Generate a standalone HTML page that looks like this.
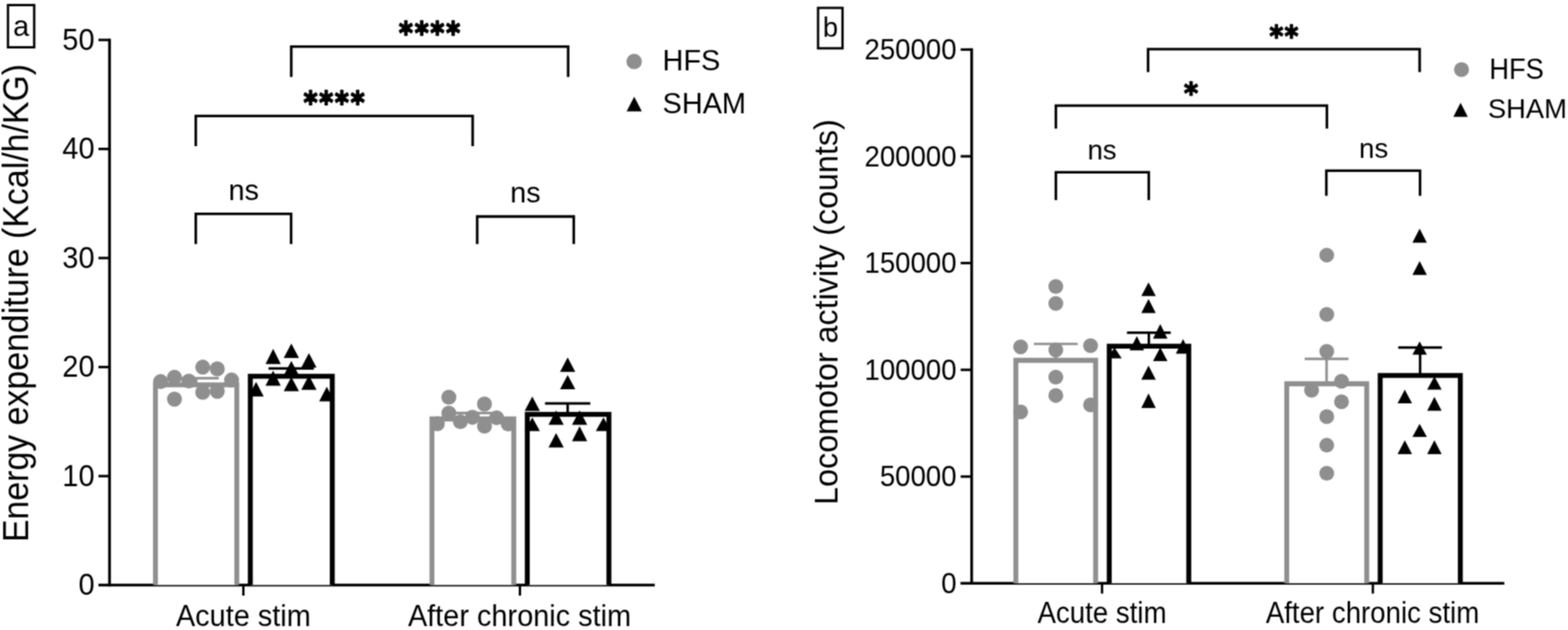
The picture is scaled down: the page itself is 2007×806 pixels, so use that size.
<!DOCTYPE html>
<html><head><meta charset="utf-8"><style>
html,body{margin:0;padding:0;background:#fff;}
svg{display:block;font-family:'Liberation Sans', Arial, Helvetica, sans-serif;}
</style></head><body>
<svg width="2007" height="806" viewBox="0 0 2007 806">
<defs><filter id="soft" filterUnits="userSpaceOnUse" x="-20" y="-20" width="2047" height="846" color-interpolation-filters="sRGB"><feConvolveMatrix order="3" kernelMatrix="1 2 1 2 4 2 1 2 1" divisor="16" edgeMode="duplicate" preserveAlpha="true"/></filter></defs>
<rect width="2007" height="806" fill="#fff"/>
<g filter="url(#soft)">
<rect x="-20" y="-20" width="2047" height="846" fill="#fff"/>
<line x1="140.20" y1="49.50" x2="140.20" y2="750.35" stroke="#000" stroke-width="3.5" stroke-linecap="butt"/>
<line x1="126.00" y1="748.60" x2="838.10" y2="748.60" stroke="#000" stroke-width="3.5" stroke-linecap="butt"/>
<line x1="126.00" y1="609.10" x2="140.20" y2="609.10" stroke="#000" stroke-width="3.2" stroke-linecap="butt"/>
<line x1="126.00" y1="469.60" x2="140.20" y2="469.60" stroke="#000" stroke-width="3.2" stroke-linecap="butt"/>
<line x1="126.00" y1="330.10" x2="140.20" y2="330.10" stroke="#000" stroke-width="3.2" stroke-linecap="butt"/>
<line x1="126.00" y1="190.60" x2="140.20" y2="190.60" stroke="#000" stroke-width="3.2" stroke-linecap="butt"/>
<line x1="126.00" y1="51.10" x2="140.20" y2="51.10" stroke="#000" stroke-width="3.2" stroke-linecap="butt"/>
<text transform="translate(121.00 761.40) scale(1 1.04)" font-size="37" text-anchor="end" font-weight="normal" >0</text>
<text transform="translate(121.00 621.90) scale(1 1.04)" font-size="37" text-anchor="end" font-weight="normal" >10</text>
<text transform="translate(121.00 482.40) scale(1 1.04)" font-size="37" text-anchor="end" font-weight="normal" >20</text>
<text transform="translate(121.00 342.90) scale(1 1.04)" font-size="37" text-anchor="end" font-weight="normal" >30</text>
<text transform="translate(121.00 203.40) scale(1 1.04)" font-size="37" text-anchor="end" font-weight="normal" >40</text>
<text transform="translate(121.00 63.90) scale(1 1.04)" font-size="37" text-anchor="end" font-weight="normal" >50</text>
<line x1="311.50" y1="748.60" x2="311.50" y2="762.00" stroke="#000" stroke-width="3" stroke-linecap="butt"/>
<line x1="665.50" y1="748.60" x2="665.50" y2="762.00" stroke="#000" stroke-width="3" stroke-linecap="butt"/>
<text transform="translate(311.50 800.90) scale(1 1.035)" font-size="37" text-anchor="middle" font-weight="normal" >Acute stim</text>
<text transform="translate(665.00 800.90) scale(1 1.035)" font-size="37" text-anchor="middle" font-weight="normal" >After chronic stim</text>
<text transform="translate(36.3 693.6) rotate(-90) scale(1 1.06)" font-size="43.36">Energy expenditure (Kcal/h/KG)</text>
<rect x="10.2" y="6.5" width="33.599999999999994" height="54.0" fill="none" stroke="#000" stroke-width="3"/>
<text x="27.10" y="45.60" font-size="37" text-anchor="middle" font-weight="normal" >a</text>
<path d="M199.00 748.60V492.40H303.10V748.60" fill="#fff" stroke="#8f8f8f" stroke-width="6.3" stroke-linejoin="miter"/>
<path d="M320.40 748.60V481.40H425.30V748.60" fill="#fff" stroke="#000" stroke-width="6.3" stroke-linejoin="miter"/>
<path d="M552.90 748.60V536.00H657.60V748.60" fill="#fff" stroke="#8f8f8f" stroke-width="6.3" stroke-linejoin="miter"/>
<path d="M674.90 748.60V530.10H779.40V748.60" fill="#fff" stroke="#000" stroke-width="6.3" stroke-linejoin="miter"/>
<line x1="251.00" y1="492.40" x2="251.00" y2="483.90" stroke="#8f8f8f" stroke-width="3.3" stroke-linecap="butt"/>
<line x1="222.00" y1="483.90" x2="280.00" y2="483.90" stroke="#8f8f8f" stroke-width="3.3" stroke-linecap="butt"/>
<line x1="372.70" y1="481.40" x2="372.70" y2="471.30" stroke="#000" stroke-width="3.3" stroke-linecap="butt"/>
<line x1="343.70" y1="471.30" x2="401.70" y2="471.30" stroke="#000" stroke-width="3.3" stroke-linecap="butt"/>
<line x1="605.20" y1="536.00" x2="605.20" y2="528.40" stroke="#8f8f8f" stroke-width="3.3" stroke-linecap="butt"/>
<line x1="576.20" y1="528.40" x2="634.20" y2="528.40" stroke="#8f8f8f" stroke-width="3.3" stroke-linecap="butt"/>
<line x1="726.60" y1="530.10" x2="726.60" y2="516.10" stroke="#000" stroke-width="3.3" stroke-linecap="butt"/>
<line x1="697.60" y1="516.10" x2="755.60" y2="516.10" stroke="#000" stroke-width="3.3" stroke-linecap="butt"/>
<circle cx="205.60" cy="488.20" r="9.6" fill="#8f8f8f"/>
<circle cx="223.30" cy="482.70" r="9.6" fill="#8f8f8f"/>
<circle cx="241.70" cy="487.50" r="9.6" fill="#8f8f8f"/>
<circle cx="259.50" cy="469.70" r="9.6" fill="#8f8f8f"/>
<circle cx="278.10" cy="471.90" r="9.6" fill="#8f8f8f"/>
<circle cx="259.50" cy="501.90" r="9.6" fill="#8f8f8f"/>
<circle cx="278.10" cy="500.60" r="9.6" fill="#8f8f8f"/>
<circle cx="296.40" cy="486.20" r="9.6" fill="#8f8f8f"/>
<circle cx="223.30" cy="510.60" r="9.6" fill="#8f8f8f"/>
<path d="M349.60 446.20L359.35 465.70L339.85 465.70Z" fill="#000"/>
<path d="M372.90 439.50L382.65 457.90L363.15 457.90Z" fill="#000"/>
<path d="M395.40 451.80L405.15 470.20L385.65 470.20Z" fill="#000"/>
<path d="M372.90 461.80L382.65 480.30L363.15 480.30Z" fill="#000"/>
<path d="M349.60 474.20L359.35 493.60L339.85 493.60Z" fill="#000"/>
<path d="M372.90 482.20L382.65 500.60L363.15 500.60Z" fill="#000"/>
<path d="M395.40 480.30L405.15 498.70L385.65 498.70Z" fill="#000"/>
<path d="M327.80 488.60L337.55 507.20L318.05 507.20Z" fill="#000"/>
<path d="M418.30 494.70L428.05 513.50L408.55 513.50Z" fill="#000"/>
<circle cx="574.50" cy="508.20" r="9.6" fill="#8f8f8f"/>
<circle cx="574.50" cy="528.60" r="9.6" fill="#8f8f8f"/>
<circle cx="589.30" cy="539.50" r="9.6" fill="#8f8f8f"/>
<circle cx="604.70" cy="533.80" r="9.6" fill="#8f8f8f"/>
<circle cx="620.10" cy="516.90" r="9.6" fill="#8f8f8f"/>
<circle cx="620.10" cy="545.10" r="9.6" fill="#8f8f8f"/>
<circle cx="635.70" cy="534.50" r="9.6" fill="#8f8f8f"/>
<circle cx="650.50" cy="542.50" r="9.6" fill="#8f8f8f"/>
<circle cx="559.80" cy="542.10" r="9.6" fill="#8f8f8f"/>
<path d="M726.60 457.30L736.35 475.80L716.85 475.80Z" fill="#000"/>
<path d="M726.60 479.80L736.35 498.10L716.85 498.10Z" fill="#000"/>
<path d="M681.30 507.30L691.05 525.80L671.55 525.80Z" fill="#000"/>
<path d="M711.80 525.00L721.55 543.50L702.05 543.50Z" fill="#000"/>
<path d="M741.90 525.00L751.65 543.50L732.15 543.50Z" fill="#000"/>
<path d="M681.30 533.90L691.05 551.60L671.55 551.60Z" fill="#000"/>
<path d="M772.40 533.90L782.15 551.60L762.65 551.60Z" fill="#000"/>
<path d="M741.90 545.20L751.65 564.50L732.15 564.50Z" fill="#000"/>
<path d="M711.80 554.00L721.55 572.60L702.05 572.60Z" fill="#000"/>
<path d="M372.80 98.40V59.60H727.20V98.40" fill="none" stroke="#000" stroke-width="3.3" stroke-linejoin="miter"/>
<path d="M250.60 187.00V148.30H605.00V187.00" fill="none" stroke="#000" stroke-width="3.3" stroke-linejoin="miter"/>
<path d="M250.60 312.20V273.60H372.60V312.20" fill="none" stroke="#000" stroke-width="3.3" stroke-linejoin="miter"/>
<path d="M610.80 312.30V277.00H734.40V312.30" fill="none" stroke="#000" stroke-width="3.3" stroke-linejoin="miter"/>
<text transform="translate(550.80 55.80) scale(0.9 1)" font-family="'DejaVu Sans', sans-serif" font-weight="bold" font-size="38.3" letter-spacing="2.3" text-anchor="middle" stroke="#000" stroke-width="1.8" stroke-linejoin="round">****</text>
<text transform="translate(428.60 145.10) scale(0.9 1)" font-family="'DejaVu Sans', sans-serif" font-weight="bold" font-size="38.3" letter-spacing="2.3" text-anchor="middle" stroke="#000" stroke-width="1.8" stroke-linejoin="round">****</text>
<text x="312.00" y="255.50" font-size="37" text-anchor="middle" font-weight="normal" >ns</text>
<text x="672.50" y="259.20" font-size="37" text-anchor="middle" font-weight="normal" >ns</text>
<circle cx="811.70" cy="78.70" r="9.9" fill="#8f8f8f"/>
<path d="M811.80 123.70L821.55 142.60L802.05 142.60Z" fill="#000"/>
<text x="848.00" y="90.30" font-size="37" text-anchor="start" font-weight="normal" >HFS</text>
<text x="848.00" y="144.50" font-size="37" text-anchor="start" font-weight="normal" >SHAM</text>
<line x1="1243.70" y1="61.80" x2="1243.70" y2="748.05" stroke="#000" stroke-width="3.5" stroke-linecap="butt"/>
<line x1="1229.40" y1="746.20" x2="1925.50" y2="746.20" stroke="#000" stroke-width="3.5" stroke-linecap="butt"/>
<line x1="1229.60" y1="609.72" x2="1243.70" y2="609.72" stroke="#000" stroke-width="3.2" stroke-linecap="butt"/>
<line x1="1229.60" y1="473.14" x2="1243.70" y2="473.14" stroke="#000" stroke-width="3.2" stroke-linecap="butt"/>
<line x1="1229.60" y1="336.56" x2="1243.70" y2="336.56" stroke="#000" stroke-width="3.2" stroke-linecap="butt"/>
<line x1="1229.60" y1="199.98" x2="1243.70" y2="199.98" stroke="#000" stroke-width="3.2" stroke-linecap="butt"/>
<line x1="1229.60" y1="63.40" x2="1243.70" y2="63.40" stroke="#000" stroke-width="3.2" stroke-linecap="butt"/>
<text transform="translate(1224.30 758.90) scale(1 1.07)" font-size="35.3" text-anchor="end" font-weight="normal" >0</text>
<text transform="translate(1224.30 622.32) scale(1 1.07)" font-size="35.3" text-anchor="end" font-weight="normal" >50000</text>
<text transform="translate(1224.30 485.74) scale(1 1.07)" font-size="35.3" text-anchor="end" font-weight="normal" >100000</text>
<text transform="translate(1224.30 349.16) scale(1 1.07)" font-size="35.3" text-anchor="end" font-weight="normal" >150000</text>
<text transform="translate(1224.30 212.58) scale(1 1.07)" font-size="35.3" text-anchor="end" font-weight="normal" >200000</text>
<text transform="translate(1224.30 76.00) scale(1 1.07)" font-size="35.3" text-anchor="end" font-weight="normal" >250000</text>
<line x1="1410.60" y1="746.30" x2="1410.60" y2="759.40" stroke="#000" stroke-width="3" stroke-linecap="butt"/>
<line x1="1757.20" y1="746.30" x2="1757.20" y2="759.40" stroke="#000" stroke-width="3" stroke-linecap="butt"/>
<text transform="translate(1410.60 796.90) scale(1 1.07)" font-size="35.4" text-anchor="middle" font-weight="normal" >Acute stim</text>
<text transform="translate(1756.80 796.90) scale(1 1.07)" font-size="35.4" text-anchor="middle" font-weight="normal" >After chronic stim</text>
<text transform="translate(1072.2 645.9) rotate(-90) scale(1 1.03)" font-size="41.3">Locomotor activity (counts)</text>
<rect x="1047.1" y="10.1" width="31.300000000000182" height="51.699999999999996" fill="none" stroke="#000" stroke-width="3"/>
<text x="1063.00" y="47.00" font-size="35" text-anchor="middle" font-weight="normal" >b</text>
<path d="M1300.30 746.30V461.00H1402.40V746.30" fill="#fff" stroke="#8f8f8f" stroke-width="6.3" stroke-linejoin="miter"/>
<path d="M1419.80 746.30V442.80H1521.60V746.30" fill="#fff" stroke="#000" stroke-width="6.3" stroke-linejoin="miter"/>
<path d="M1647.00 746.30V491.00H1749.40V746.30" fill="#fff" stroke="#8f8f8f" stroke-width="6.3" stroke-linejoin="miter"/>
<path d="M1766.60 746.30V480.30H1869.20V746.30" fill="#fff" stroke="#000" stroke-width="6.3" stroke-linejoin="miter"/>
<line x1="1351.40" y1="461.00" x2="1351.40" y2="440.00" stroke="#8f8f8f" stroke-width="3.2" stroke-linecap="butt"/>
<line x1="1323.40" y1="440.00" x2="1379.40" y2="440.00" stroke="#8f8f8f" stroke-width="3.2" stroke-linecap="butt"/>
<line x1="1470.50" y1="442.80" x2="1470.50" y2="425.70" stroke="#000" stroke-width="3.2" stroke-linecap="butt"/>
<line x1="1442.50" y1="425.70" x2="1498.50" y2="425.70" stroke="#000" stroke-width="3.2" stroke-linecap="butt"/>
<line x1="1698.00" y1="491.00" x2="1698.00" y2="459.20" stroke="#8f8f8f" stroke-width="3.2" stroke-linecap="butt"/>
<line x1="1670.00" y1="459.20" x2="1726.00" y2="459.20" stroke="#8f8f8f" stroke-width="3.2" stroke-linecap="butt"/>
<line x1="1817.70" y1="480.30" x2="1817.70" y2="444.60" stroke="#000" stroke-width="3.2" stroke-linecap="butt"/>
<line x1="1789.70" y1="444.60" x2="1845.70" y2="444.60" stroke="#000" stroke-width="3.2" stroke-linecap="butt"/>
<circle cx="1351.40" cy="366.50" r="9.5" fill="#8f8f8f"/>
<circle cx="1351.40" cy="388.30" r="9.5" fill="#8f8f8f"/>
<circle cx="1306.40" cy="443.70" r="9.5" fill="#8f8f8f"/>
<circle cx="1351.40" cy="447.80" r="9.5" fill="#8f8f8f"/>
<circle cx="1395.90" cy="442.30" r="9.5" fill="#8f8f8f"/>
<circle cx="1351.40" cy="482.50" r="9.5" fill="#8f8f8f"/>
<circle cx="1351.40" cy="505.90" r="9.5" fill="#8f8f8f"/>
<circle cx="1306.40" cy="527.00" r="9.5" fill="#8f8f8f"/>
<circle cx="1395.90" cy="518.00" r="9.5" fill="#8f8f8f"/>
<path d="M1470.10 361.30L1479.35 378.70L1460.85 378.70Z" fill="#000"/>
<path d="M1470.10 382.60L1479.35 400.50L1460.85 400.50Z" fill="#000"/>
<path d="M1485.10 414.50L1494.35 433.30L1475.85 433.30Z" fill="#000"/>
<path d="M1455.10 430.10L1464.35 448.30L1445.85 448.30Z" fill="#000"/>
<path d="M1514.30 433.70L1523.55 452.40L1505.05 452.40Z" fill="#000"/>
<path d="M1426.50 444.50L1435.75 458.50L1417.25 458.50Z" fill="#000"/>
<path d="M1485.10 444.50L1494.35 462.00L1475.85 462.00Z" fill="#000"/>
<path d="M1470.10 467.80L1479.35 485.70L1460.85 485.70Z" fill="#000"/>
<path d="M1470.10 503.30L1479.35 522.00L1460.85 522.00Z" fill="#000"/>
<circle cx="1698.20" cy="326.40" r="9.5" fill="#8f8f8f"/>
<circle cx="1698.20" cy="402.30" r="9.5" fill="#8f8f8f"/>
<circle cx="1698.20" cy="449.50" r="9.5" fill="#8f8f8f"/>
<circle cx="1717.10" cy="487.80" r="9.5" fill="#8f8f8f"/>
<circle cx="1678.80" cy="499.20" r="9.5" fill="#8f8f8f"/>
<circle cx="1717.10" cy="514.00" r="9.5" fill="#8f8f8f"/>
<circle cx="1698.20" cy="533.00" r="9.5" fill="#8f8f8f"/>
<circle cx="1698.20" cy="569.60" r="9.5" fill="#8f8f8f"/>
<circle cx="1698.20" cy="605.50" r="9.5" fill="#8f8f8f"/>
<path d="M1817.10 292.60L1826.35 310.40L1807.85 310.40Z" fill="#000"/>
<path d="M1817.10 334.00L1826.35 351.70L1807.85 351.70Z" fill="#000"/>
<path d="M1817.10 436.80L1826.35 453.70L1807.85 453.70Z" fill="#000"/>
<path d="M1836.00 481.50L1845.25 498.40L1826.75 498.40Z" fill="#000"/>
<path d="M1798.10 498.40L1807.35 516.10L1788.85 516.10Z" fill="#000"/>
<path d="M1836.00 507.70L1845.25 525.40L1826.75 525.40Z" fill="#000"/>
<path d="M1817.10 542.20L1826.35 559.10L1807.85 559.10Z" fill="#000"/>
<path d="M1798.10 563.30L1807.35 581.00L1788.85 581.00Z" fill="#000"/>
<path d="M1836.00 563.30L1845.25 581.00L1826.75 581.00Z" fill="#000"/>
<path d="M1469.50 92.30V62.80H1817.10V92.30" fill="none" stroke="#000" stroke-width="3.3" stroke-linejoin="miter"/>
<path d="M1351.50 164.50V135.10H1698.40V164.50" fill="none" stroke="#000" stroke-width="3.3" stroke-linejoin="miter"/>
<path d="M1351.50 255.90V220.40H1470.40V255.90" fill="none" stroke="#000" stroke-width="3.3" stroke-linejoin="miter"/>
<path d="M1697.70 250.60V218.40H1817.60V250.60" fill="none" stroke="#000" stroke-width="3.3" stroke-linejoin="miter"/>
<text transform="translate(1644.30 59.10) scale(0.92 1)" font-family="'DejaVu Sans', sans-serif" font-weight="bold" font-size="36.5" letter-spacing="1.9" text-anchor="middle" stroke="#000" stroke-width="1.7" stroke-linejoin="round">**</text>
<text transform="translate(1525.40 131.50) scale(0.92 1)" font-family="'DejaVu Sans', sans-serif" font-weight="bold" font-size="37.5" letter-spacing="1.9" text-anchor="middle" stroke="#000" stroke-width="1.7" stroke-linejoin="round">*</text>
<text x="1410.60" y="203.50" font-size="35.4" text-anchor="middle" font-weight="normal" >ns</text>
<text x="1758.20" y="202.00" font-size="35.4" text-anchor="middle" font-weight="normal" >ns</text>
<circle cx="1870.70" cy="89.00" r="9.6" fill="#8f8f8f"/>
<path d="M1869.50 131.60L1878.75 149.40L1860.25 149.40Z" fill="#000"/>
<text transform="translate(1906.20 101.40) scale(1 1.05)" font-size="35" text-anchor="start" font-weight="normal" >HFS</text>
<text transform="translate(1904.50 151.00) scale(1 1.02)" font-size="35" text-anchor="start" font-weight="normal" >SHAM</text>
</g>
</svg>
</body></html>
